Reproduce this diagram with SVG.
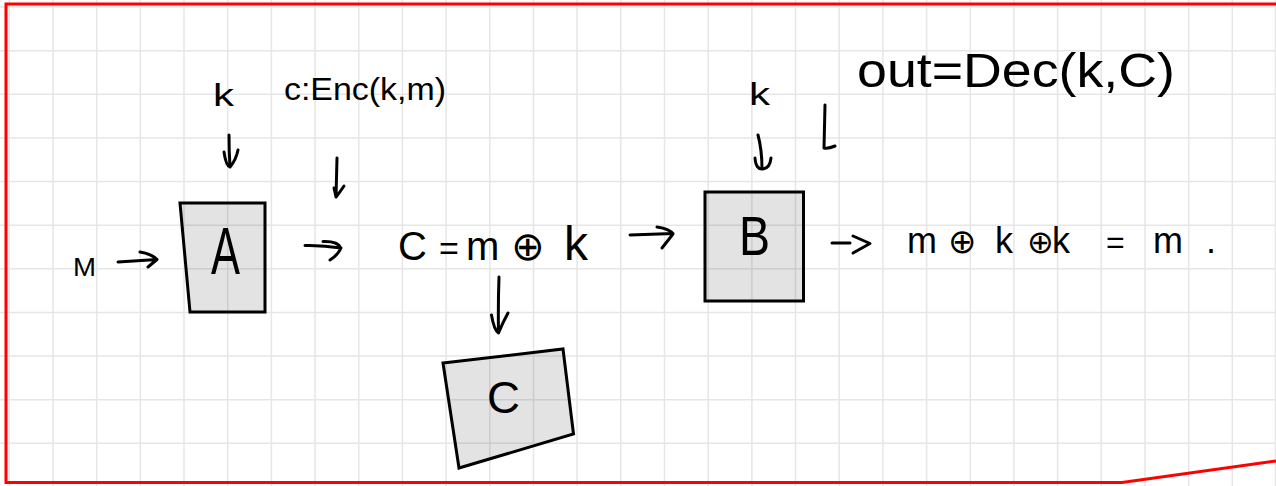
<svg xmlns="http://www.w3.org/2000/svg" width="1276" height="486" viewBox="0 0 1276 486">
<style>
.grid{stroke:#e6e6e6;stroke-width:1.5;fill:none}
.border{stroke:#ff0000;stroke-width:3;fill:none}
.box{fill:#000;fill-opacity:0.11;stroke:#000;stroke-width:3;stroke-linejoin:miter}
.ink{stroke:#000;stroke-width:3;fill:none;stroke-linecap:round;stroke-linejoin:round}
text{font-family:"Liberation Sans","DejaVu Sans",sans-serif;fill:#000}
.op{font-family:"DejaVu Sans","Liberation Sans",sans-serif}
</style>
<rect width="1276" height="486" fill="#fff"/>
<path class="grid" d="M9.3 0V486M53 0V486M96.7 0V486M140.3 0V486M184 0V486M227.7 0V486M271.4 0V486M315.1 0V486M358.7 0V486M402.4 0V486M446.1 0V486M489.8 0V486M533.5 0V486M577.1 0V486M620.8 0V486M664.5 0V486M708.2 0V486M751.9 0V486M795.5 0V486M839.2 0V486M882.9 0V486M926.6 0V486M970.3 0V486M1013.9 0V486M1057.6 0V486M1101.3 0V486M1145 0V486M1188.7 0V486M1232.3 0V486M1275.5 0V486M0 7.1H1276M0 50.7H1276M0 94.3H1276M0 138H1276M0 181.6H1276M0 225.2H1276M0 268.8H1276M0 312.4H1276M0 356.1H1276M0 399.7H1276M0 443.3H1276"/>
<path class="border" d="M1276 4H6V482.5H1122L1276 461"/>

<g id="node-A">
<polygon class="box" points="180,203 265,203 265,312 190,312"/>
<text x="211" y="274" font-size="66" textLength="29" lengthAdjust="spacingAndGlyphs">A</text>
</g>
<g id="node-B">
<rect class="box" x="705" y="192" width="98.5" height="109"/>
<text x="739" y="255" font-size="56" textLength="31" lengthAdjust="spacingAndGlyphs">B</text>
</g>
<g id="node-C">
<polygon class="box" points="443,363 563,349 573.5,434 459,468"/>
<text x="487" y="413" font-size="44" textLength="33" lengthAdjust="spacingAndGlyphs">C</text>
</g>

<g id="label-m">
<text x="73" y="276" font-size="26" textLength="23" lengthAdjust="spacingAndGlyphs">M</text>
</g>
<g id="label-kA">
<text x="213" y="106" font-size="32" textLength="21" lengthAdjust="spacingAndGlyphs">k</text>
</g>
<g id="label-enc">
<text x="284" y="100" font-size="31" textLength="162" lengthAdjust="spacingAndGlyphs">c:Enc(k,m)</text>
</g>
<g id="label-cipher">
<text y="260" font-size="40"><tspan x="398">C</tspan> <tspan x="439" font-size="34">=</tspan> <tspan x="466">m</tspan> <tspan x="511" class="op" font-size="40">⊕</tspan> <tspan x="564" font-size="48">k</tspan></text>
</g>
<g id="label-kB">
<text x="749" y="105" font-size="32" textLength="21" lengthAdjust="spacingAndGlyphs">k</text>
</g>
<g id="label-dec">
<text x="857" y="87" font-size="48" textLength="318" lengthAdjust="spacingAndGlyphs">out=Dec(k,C)</text>
</g>
<g id="label-result">
<text y="253" font-size="36"><tspan x="907">m</tspan> <tspan x="948" class="op" font-size="34">⊕</tspan> <tspan x="995">k</tspan> <tspan x="1027" class="op" font-size="32">⊕</tspan><tspan x="1052">k</tspan> <tspan x="1106" font-size="32">=</tspan> <tspan x="1153">m</tspan> <tspan x="1206">.</tspan></text>
</g>

<g id="connectors">
<path class="ink" d="M118 262L157 259.5M140 252Q152 254 157 259.5L148 267"/>
<path class="ink" d="M305 245.5Q322 245 341 248M323 241.5Q338 241 341 248Q338 255 330 260"/>
<path class="ink" d="M229 135Q229 152 230 167M224 152Q226 166 230 167Q236 160 238 150"/>
<path class="ink" d="M337 158L336 197M344 186Q340 192 336 197L334 188"/>
<path class="ink" d="M630 235L673 233.5M657 227Q670 229 673 234L662 248"/>
<path class="ink" d="M499 277Q498 305 498.5 333M491.5 315Q494 330 498.5 333Q503 322 508 313"/>
<path class="ink" d="M758 135Q762 150 762 169M755 158Q756 170 763 169Q770 168 771 158"/>
<path class="ink" d="M825 105L824 148Q828 149 835 146"/>
<path class="ink" d="M832 243L850 243M853 236L870 243.5L853 253"/>
</g>
</svg>
